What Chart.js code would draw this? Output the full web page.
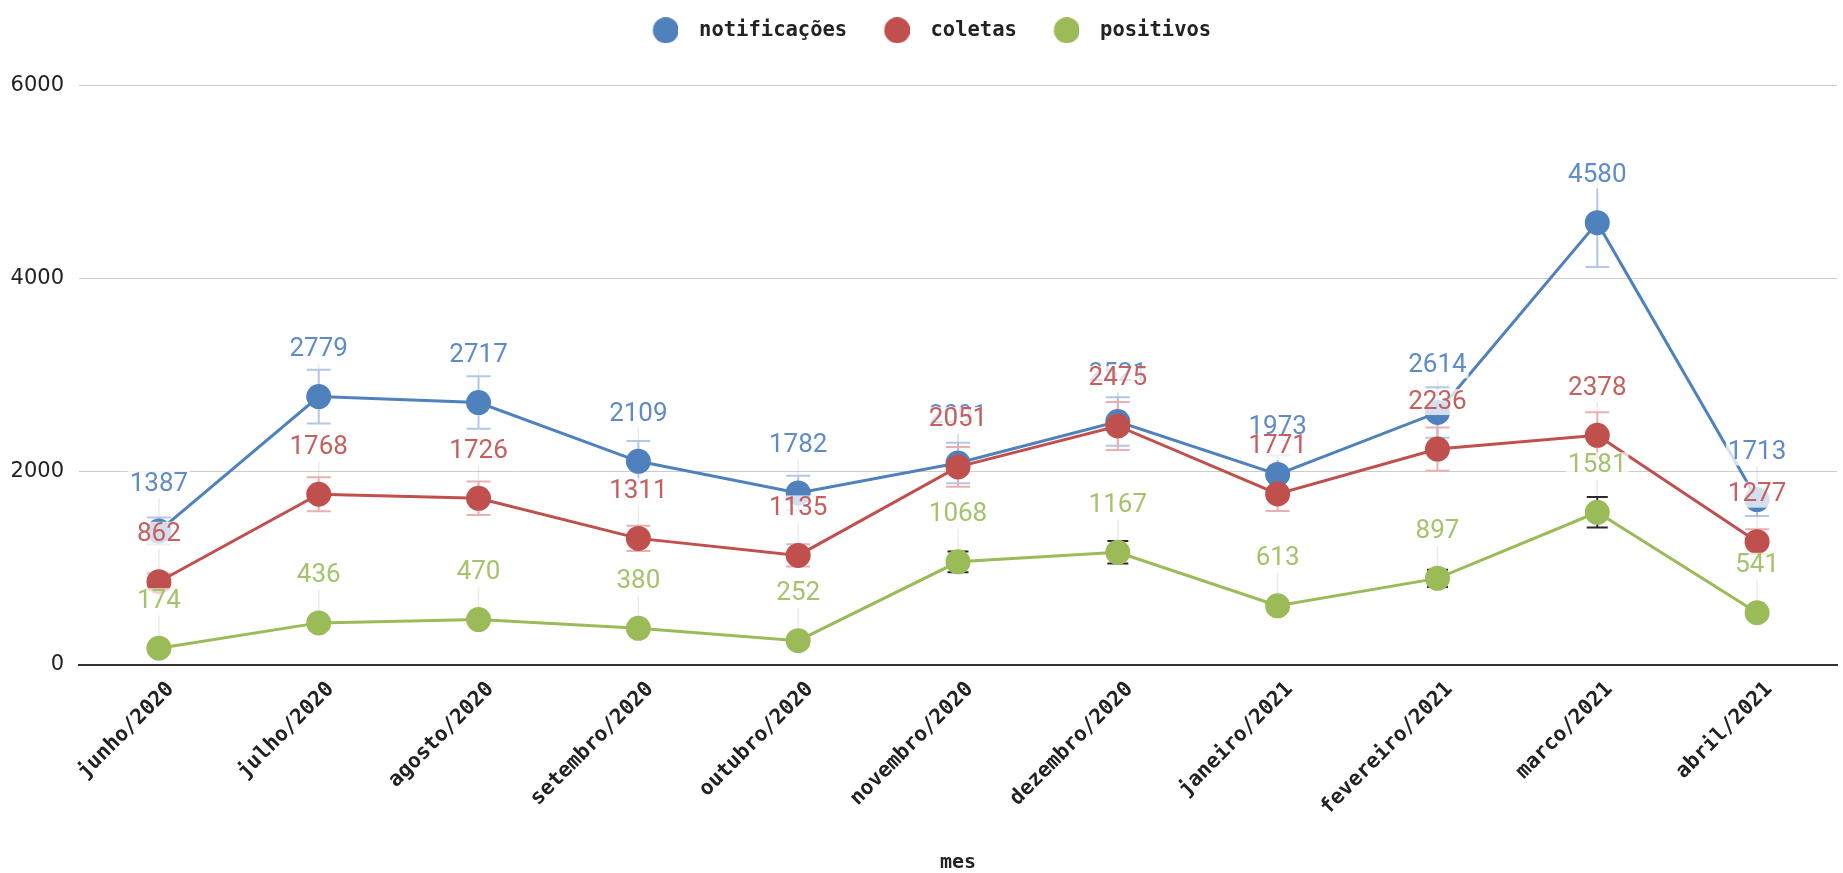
<!DOCTYPE html>
<html>
<head>
<meta charset="utf-8">
<script src="https://cdn.jsdelivr.net/npm/chart.js@4/dist/chart.umd.min.js"></script>
<style>
  html, body { margin: 0; padding: 0; background: #fff; }
  #wrap { width: 1843px; height: 873px; }
</style>
</head>
<body>
<div id="wrap"><canvas id="chart"></canvas></div>
<script>
const months = ['junho/2020', 'julho/2020', 'agosto/2020', 'setembro/2020', 'outubro/2020',
  'novembro/2020', 'dezembro/2020', 'janeiro/2021', 'fevereiro/2021', 'marco/2021', 'abril/2021'];

const notificacoes = [1387, 2779, 2717, 2109, 1782, 2091, 2521, 1973, 2614, 4580, 1713];
const coletas = [862, 1768, 1726, 1311, 1135, 2051, 2475, 1771, 2236, 2378, 1277];
const positivos = [174, 436, 470, 380, 252, 1068, 1167, 613, 897, 1581, 541];

// half length of the error bars
const notificacoesErr = [139, 278, 272, 211, 178, 209, 252, 197, 261, 458, 171];
const coletasErr = [86, 177, 173, 131, 114, 205, 248, 177, 224, 238, 128];
const positivosErr = [17, 44, 47, 38, 25, 107, 117, 61, 90, 158, 54];

const yTicks = [0, 2000, 4000, 6000];

const MONO = "'DejaVu Sans Mono', monospace";

// legend marker: circle drawn off-centre so the gap before the text is wider
function legendDot(color) {
  const c = document.createElement('canvas');
  c.width = 42; c.height = 26;
  const g = c.getContext('2d');
  g.fillStyle = color;
  g.beginPath();
  g.arc(29.5, 13, 13, 0, Math.PI * 2);
  g.fill();
  return c;
}

const extras = {
  id: 'extras',
  beforeDatasetsDraw(chart) {
    const ctx = chart.ctx;
    const y = chart.scales.y;
    ctx.save();
    chart.data.datasets.forEach((ds, i) => {
      const meta = chart.getDatasetMeta(i);
      meta.data.forEach((pt, j) => {
        // faint leader line to the value label
        ctx.strokeStyle = 'rgba(0,0,0,0.08)';
        ctx.lineWidth = 1.5;
        ctx.beginPath();
        ctx.moveTo(pt.x, pt.y - 10);
        ctx.lineTo(pt.x, pt.y - 33);
        ctx.stroke();
        // error bar
        const v = ds.data[j], e = ds.err[j];
        const t = y.getPixelForValue(v + e), b = y.getPixelForValue(v - e);
        const hw = ds.capHalf;
        ctx.strokeStyle = ds.errColor;
        ctx.lineWidth = 2;
        ctx.beginPath();
        ctx.moveTo(pt.x, t); ctx.lineTo(pt.x, b);
        ctx.moveTo(pt.x - hw, t); ctx.lineTo(pt.x + hw, t);
        ctx.moveTo(pt.x - hw, b); ctx.lineTo(pt.x + hw, b);
        ctx.stroke();
      });
    });
    ctx.restore();
  },
  afterDatasetsDraw(chart) {
    const ctx = chart.ctx;
    ctx.save();
    ctx.font = '26px Roboto';
    ctx.textAlign = 'center';
    ctx.textBaseline = 'middle';
    chart.data.datasets.forEach((ds, i) => {
      const meta = chart.getDatasetMeta(i);
      meta.data.forEach((pt, j) => {
        const text = String(ds.data[j]);
        const w = ctx.measureText(text).width;
        const cy = pt.y - 47;
        ctx.fillStyle = 'rgba(255,255,255,0.75)';
        ctx.fillRect(pt.x - w / 2 - 2, cy - 13, w + 4, 26);
        ctx.fillStyle = ds.labelColor;
        ctx.fillText(text, pt.x, cy);
      });
    });
    ctx.restore();
  }
};

function series(label, data, err, color, labelColor, errColor, capHalf, order) {
  return {
    label, data, err, labelColor, errColor, capHalf, order,
    dot: legendDot(color),
    borderColor: color,
    backgroundColor: color,
    pointBackgroundColor: color,
    pointBorderColor: color,
    pointRadius: 11,
    pointHoverRadius: 11,
    pointStyle: 'circle',
    borderWidth: 3,
    tension: 0
  };
}

new Chart(document.getElementById('chart'), {
  type: 'line',
  data: {
    labels: months,
    datasets: [
      series('notificações', notificacoes, notificacoesErr, '#4f81bd', '#5f8bc6', '#b3c8e6', 12, 3),
      series('coletas', coletas, coletasErr, '#c0504d', '#c4605d', '#e6b1b0', 12, 2),
      series('positivos', positivos, positivosErr, '#9bbb59', '#a5c26c', '#2a2a2a', 10.5, 1)
    ]
  },
  options: {
    responsive: true,
    maintainAspectRatio: false,
    animation: false,
    layout: { autoPadding: false, padding: { top: 10, right: 6, left: 0, bottom: 0 } },
    plugins: {
      tooltip: { enabled: false },
      legend: {
        weight: 3000,
        labels: {
          usePointStyle: true,
          pointStyleWidth: 63,
          boxHeight: 20,
          padding: 10,
          color: '#222',
          font: { family: MONO, size: 20.5, weight: 'bold' },
          generateLabels: chart =>
            Chart.defaults.plugins.legend.labels.generateLabels(chart)
              .map(l => ({ ...l, pointStyle: chart.data.datasets[l.datasetIndex].dot })),
          sort: (a, b) => a.datasetIndex - b.datasetIndex
        }
      },
      title: {
        display: true,
        text: ' ',
        font: { size: 10 },
        padding: { top: 0, bottom: 23 }
      }
    },
    scales: {
      x: {
        offset: true,
        grid: { display: false },
        border: { color: '#333', width: 2 },
        ticks: {
          color: '#222',
          font: { family: MONO, size: 21, weight: 'bold' },
          minRotation: 45,
          maxRotation: 45,
          labelOffset: 12,
          padding: 4
        },
        title: {
          display: true,
          text: 'mes',
          color: '#222',
          font: { family: MONO, size: 20, weight: 'bold', lineHeight: 1 },
          padding: { top: 0, bottom: 0 }
        },
        afterFit: s => { s.height = 208; s.paddingLeft = 0; s.paddingRight = 0; }
      },
      y: {
        min: 0,
        max: 6000,
        afterBuildTicks: s => { s.ticks = yTicks.map(v => ({ value: v })); },
        grid: { color: '#cccccc', drawTicks: false },
        border: { display: false },
        ticks: {
          color: '#222',
          font: { family: "'DejaVu Sans', sans-serif", size: 21 },
          padding: 15,
          callback: v => String(v)
        },
        afterFit: s => { s.width = 79; }
      }
    }
  },
  plugins: [extras]
});
</script>
</body>
</html>
